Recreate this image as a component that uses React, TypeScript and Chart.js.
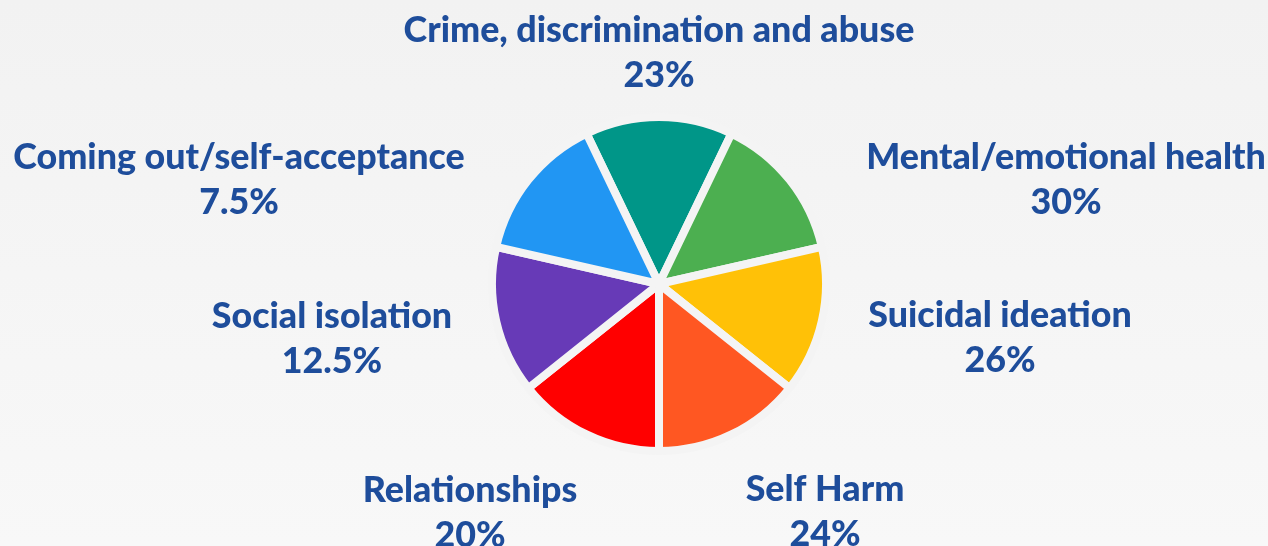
import React, { useEffect, useRef } from "react";
import { Chart, registerables } from "chart.js";

Chart.register(...registerables);

const categories = [
  "Crime, discrimination and abuse",
  "Mental/emotional health",
  "Suicidal ideation",
  "Self Harm",
  "Relationships",
  "Social isolation",
  "Coming out/self-acceptance",
];
const sliceValues = [1, 1, 1, 1, 1, 1, 1];
const percentLabels = ["23%", "30%", "26%", "24%", "20%", "12.5%", "7.5%"];
const sliceColors = ["#009688", "#4CAF50", "#FFC107", "#FF5722", "#FF0000", "#673AB7", "#2196F3"];

// label placement (offset of first line's middle from pie centre)
const labelOffsets: [number, number][] = [
  [0, -254],
  [407, -127],
  [341, 31],
  [166, 205],
  [-189, 206],
  [-327, 32],
  [-420, -127],
];
const LINE_GAP = 45;
const TEXT_COLOR = "#1e4d9b";
const FONT_FAMILY = "Lato";
const TARGET_WIDTH = 511;

const labelPlugin = {
  id: "outerLabels",
  afterDraw(chart: any) {
    const ctx = chart.ctx;
    const meta = chart.getDatasetMeta(0);
    const arc = meta.data[0];
    if (!arc) return;
    const cx = arc.x;
    const cy = arc.y;
    ctx.save();
    ctx.font = `900 100px ${FONT_FAMILY}`;
    const w = ctx.measureText(categories[0]).width;
    const size = (100 * TARGET_WIDTH) / w;
    ctx.font = `900 ${size}px ${FONT_FAMILY}`;
    ctx.fillStyle = TEXT_COLOR;
    ctx.textAlign = "center";
    ctx.textBaseline = "middle";
    categories.forEach((c, i) => {
      const [dx, dy] = labelOffsets[i];
      ctx.fillText(c, cx + dx, cy + dy);
      ctx.fillText(percentLabels[i], cx + dx, cy + dy + LINE_GAP);
    });
    ctx.restore();
  },
};

export default function App() {
  const ref = useRef<HTMLCanvasElement>(null);
  useEffect(() => {
    document.body.style.margin = "0";
    const chart = new Chart(ref.current!, {
      type: "pie",
      data: {
        labels: categories,
        datasets: [
          {
            data: sliceValues,
            backgroundColor: sliceColors,
            borderColor: "#f4f4f4",
            borderWidth: 8,
            hoverOffset: 0,
          },
        ],
      },
      options: {
        animation: false,
        responsive: false,
        rotation: -360 / 14,
        layout: { padding: { left: 488, right: 438, top: 113, bottom: 91 } },
        plugins: {
          legend: { display: false },
          tooltip: { enabled: false },
        },
      },
      plugins: [labelPlugin],
    });
    return () => chart.destroy();
  }, []);
  return (
    <div
      style={{
        width: 1268,
        height: 546,
        background: "linear-gradient(#f2f2f2, #f8f8f8)",
      }}
    >
      <canvas ref={ref} width={1268} height={546} />
    </div>
  );
}
